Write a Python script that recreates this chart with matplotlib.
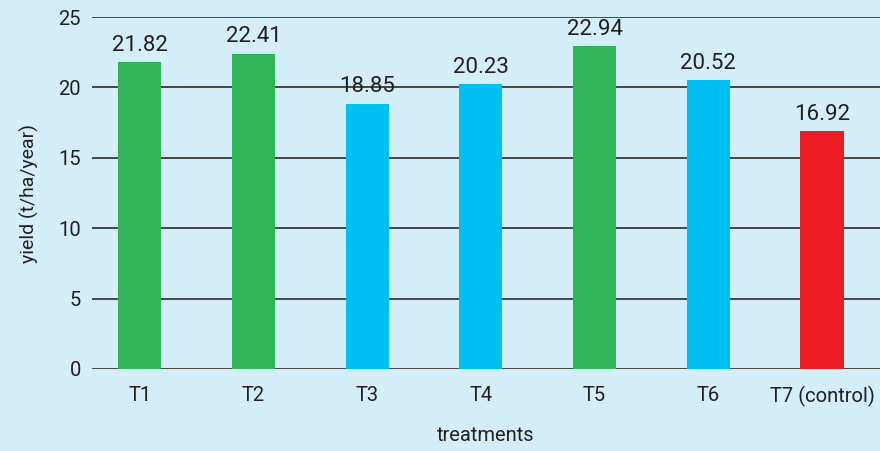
import matplotlib.pyplot as plt
from matplotlib import font_manager

treatments = ['T1', 'T2', 'T3', 'T4', 'T5', 'T6', 'T7 (control)']
yields = [21.82, 22.41, 18.85, 20.23, 22.94, 20.52, 16.92]
bar_colors = ['#32b45a', '#32b45a', '#00c0f3', '#00c0f3', '#32b45a', '#00c0f3', '#ed1c24']
y_ticks = [0, 5, 10, 15, 20, 25]

names = {f.name for f in font_manager.fontManager.ttflist}
fam = ['Liberation Sans Narrow'] if 'Liberation Sans Narrow' in names else ['Roboto']
plt.rcParams['font.family'] = fam + ['DejaVu Sans']

bg = '#d4eefa'
txt = '#231f20'

fig = plt.figure(figsize=(8.8, 4.51), dpi=100, facecolor=bg)
ax = fig.add_axes([0.1045, 0.182, 0.8955, 0.78])
ax.set_facecolor(bg)

x = range(len(treatments))
for yv in y_ticks:
    ax.axhline(yv, color='#3a3a3a', lw=1.3, zorder=1)
ax.bar(x, yields, width=0.38, color=bar_colors, zorder=2)

for xi, v in zip(x, yields):
    ax.text(xi, v + 0.45, f'{v:.2f}', ha='center', va='bottom', fontsize=16, color=txt)

ax.set_xlim(-0.42, 6.51)
ax.set_ylim(0, 25)
ax.set_yticks(y_ticks)
ax.set_xticks(list(x))
ax.set_xticklabels(treatments)
ax.tick_params(axis='both', length=0, labelsize=14.5, labelcolor=txt)
ax.tick_params(axis='y', pad=8)
ax.tick_params(axis='x', pad=12)
for s in ax.spines.values():
    s.set_visible(False)

ax.set_xlabel('treatments', fontsize=14.5, color=txt, labelpad=14)
ax.set_ylabel('yield (t/ha/year)', fontsize=14, color=txt, labelpad=14)

fig.savefig('out.png', dpi=100, facecolor=bg)
